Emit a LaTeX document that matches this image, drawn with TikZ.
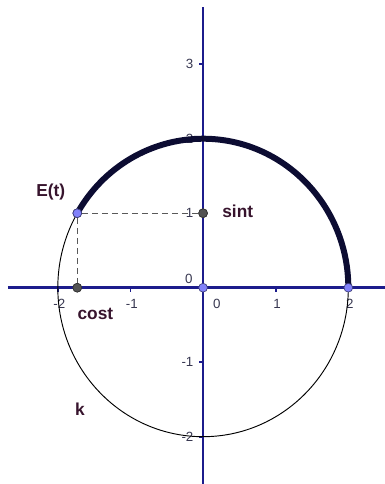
\documentclass[tikz,border=0pt]{standalone}
\usepackage{fontspec}
\setmainfont{Liberation Sans}
\begin{document}
\begin{tikzpicture}[x=54.5pt,y=55.9pt,
  axis/.style={draw=axisblue,line width=1.9pt},
  tick/.style={draw=axisblue,line width=1.4pt},
  ticklab/.style={text=labgray,font=\fontsize{10}{12}\selectfont,inner sep=0pt},
  ptlab/.style={text=ptcol,font=\bfseries\fontsize{13}{15}\selectfont,inner sep=0pt},
  bluept/.style={circle,fill=ptblue,draw=ptedge,line width=0.5pt,inner sep=0pt,minimum size=6.6pt},
  darkpt/.style={circle,fill=darkgray!90,draw=black!80,line width=0.5pt,inner sep=0pt,minimum size=6.6pt},
  dashline/.style={draw=black!65,dash pattern=on 4.5pt off 3pt,line width=1pt}]
\definecolor{axisblue}{RGB}{28,28,140}
\definecolor{labgray}{RGB}{55,55,80}
\definecolor{ptcol}{RGB}{55,20,45}
\definecolor{ptblue}{RGB}{130,130,250}
\definecolor{ptedge}{RGB}{60,60,120}
\definecolor{arccol}{RGB}{12,12,50}
\useasboundingbox (-2.796,-2.635) rectangle (2.499,3.862);
% axes
\coordinate (xl) at (-2.686,0);
\coordinate (xr) at (2.499,0);
\coordinate (yt) at (0,3.768);
\coordinate (yb) at (0,-2.635);
\draw[axis] (xl) -- (xr);
\draw[axis] (yb) -- (yt);
% ticks
\foreach \i in {-2,-1,1,2}{\draw[tick] (\i,0) -- ++(0,-0.06);}
\foreach \j in {-2,-1,1,2,3}{\draw[tick] (0,\j) -- ++(-0.06,0);}
% tick labels
\foreach \i/\t in {-2/-2,-1/-1,1/1,2/2}{\node[ticklab] (xt\i) at (\i+0.02,-0.22) {\t};}
\node[ticklab] (xt0) at (0.19,-0.22) {0};
\foreach \j/\t in {-2/-2,-1/-1,1/1,2/2,3/3}{\node[ticklab,anchor=east] (yt\j) at (-0.13,\j) {\t};}
\node[ticklab,anchor=east] (yt0) at (-0.14,0.12) {0};
% circle k
\draw[black,line width=0.7pt] (0,0) circle[radius=2];
% thick arc
\draw[arccol,line width=4.5pt] (2,0) arc[start angle=0,end angle=150,radius=2];
% points
\node[darkpt] (S) at (0,1) {};
\node[darkpt] (C) at (-1.732,0) {};
\node[bluept] (E) at (-1.732,1) {};
\node[bluept] (O) at (0,0) {};
\node[bluept] (A) at (2,0) {};
\draw[dashline] (E) -- (S);
\draw[dashline] (E) -- (C);
\node[bluept] at (E) {};
\node[darkpt] at (S) {};
\node[darkpt] at (C) {};
% labels
\node[ptlab] (Elab) at (-2.098,1.285) {E(t)};
\node[ptlab] (Slab) at (0.477,1.02) {sint};
\node[ptlab] (Clab) at (-1.483,-0.353) {cost};
\node[ptlab] (klab) at (-1.696,-1.628) {k};
\end{tikzpicture}
\end{document}
